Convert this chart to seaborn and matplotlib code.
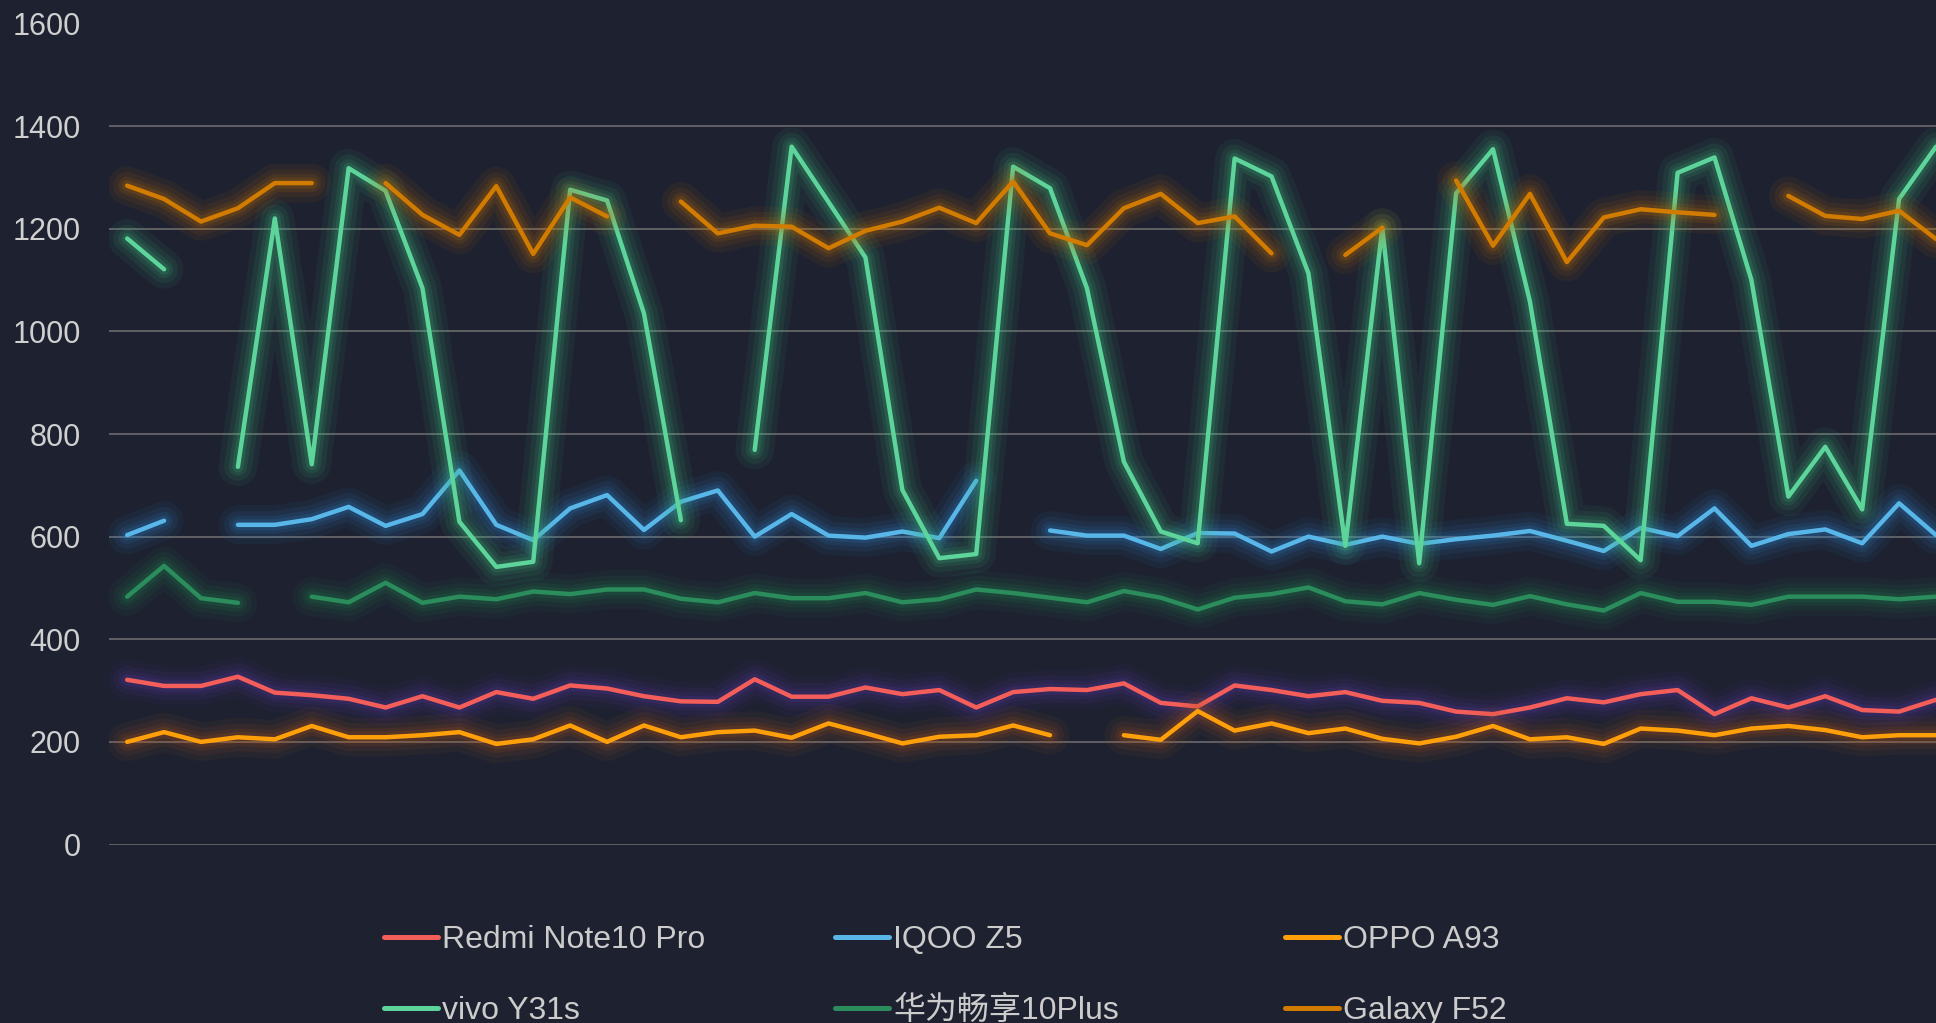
import numpy as np
import pandas as pd
import seaborn as sns
import matplotlib.pyplot as plt
import matplotlib.patheffects as pe
from matplotlib.lines import Line2D

nan = np.nan

# 50 sample points, no x labels shown on the chart
days = list(range(50))

names = ['Redmi Note10 Pro', 'IQOO Z5', 'OPPO A93', 'vivo Y31s', '华为畅享10Plus', 'Galaxy F52']

redmi = [321, 309, 309, 327, 296, 291, 284, 267, 289, 267, 297, 284, 310, 304, 289, 279,
         278, 322, 288, 288, 306, 293, 301, 267, 297, 303, 301, 314, 276, 269, 310, 301,
         289, 297, 280, 276, 259, 254, 267, 285, 277, 293, 301, 254, 285, 267, 289, 262,
         259, 282]
iqoo = [603, 631, nan, 623, 623, 634, 658, 621, 644, 729, 623, 593, 655, 681, 613, 668,
        690, 600, 644, 602, 598, 610, 597, 709, nan, 612, 602, 602, 576, 607, 606, 571,
        600, 584, 600, 586, 595, 602, 611, 592, 572, 617, 601, 655, 582, 605, 614, 587,
        665, 603]
oppo = [200, 219, 200, 209, 205, 231, 209, 209, 213, 219, 196, 205, 232, 200, 232, 209,
        219, 222, 208, 236, 217, 197, 210, 213, 232, 213, nan, 213, 204, 260, 222, 236,
        217, 226, 206, 197, 210, 231, 205, 209, 196, 226, 222, 213, 226, 231, 223, 209,
        213, 213]
vivo = [1181, 1121, nan, 736, 1220, 741, 1318, 1274, 1084, 629, 541, 551, 1276, 1255, 1035, 632,
        nan, 769, 1360, 1252, 1144, 691, 558, 566, 1321, 1279, 1084, 746, 610, 587, 1337, 1302,
        1113, 582, 1202, 548, 1269, 1355, 1058, 625, 621, 554, 1309, 1339, 1100, 678, 775, 653,
        1258, 1360]
huawei = [483, 543, 480, 471, nan, 483, 472, 510, 471, 483, 478, 493, 488, 497, 497, 479,
          472, 490, 480, 480, 490, 472, 478, 497, 490, 481, 472, 494, 481, 458, 481, 488,
          501, 474, 468, 490, 477, 467, 484, 468, 456, 490, 473, 473, 467, 483, 483, 483,
          478, 483]
galaxy = [1284, 1258, 1214, 1240, 1289, 1289, nan, 1289, 1227, 1188, 1283, 1151, 1261, 1224, nan, 1253,
          1191, 1206, 1204, 1162, 1196, 1214, 1241, 1211, 1292, 1191, 1168, 1240, 1268, 1211, 1224, 1152,
          nan, 1149, 1202, nan, 1294, 1167, 1268, 1135, 1222, 1238, 1232, 1227, nan, 1264, 1225, 1219,
          1235, 1180]

series = [redmi, iqoo, oppo, vivo, huawei, galaxy]
colors = ['#f45e5a', '#58b7e8', '#ff9f0a', '#5cd49a', '#2b8c5c', '#d17c00']
glows = ['#5e3ca8', '#2f8ad0', '#b85a1a', '#3fbf80', '#1f8a52', '#c86e00']

bg = '#1d2130'

sns.set_theme(style='dark')
plt.rcParams['font.family'] = ['Liberation Sans', 'Noto Sans CJK SC', 'DejaVu Sans']

fig = plt.figure(figsize=(19.36, 10.23), dpi=100, facecolor=bg)
ax = fig.add_axes([108.7 / 1936, 1 - 844.5 / 1023, 1 - 108.7 / 1936, (844.5 - 23.5) / 1023])
ax.set_facecolor(bg)

for name, vals, c, g in zip(names, series, colors, glows):
    s = pd.Series(vals, dtype=float)
    df = pd.DataFrame({'day': days, 'value': s, 'seg': s.isna().cumsum()}).dropna()
    sns.lineplot(data=df, x='day', y='value', units='seg', estimator=None, sort=False,
                 color=c, linewidth=3.2, legend=False, ax=ax,
                 path_effects=[pe.Stroke(linewidth=28, foreground=g, alpha=0.07),
                               pe.Stroke(linewidth=20, foreground=g, alpha=0.09),
                               pe.Stroke(linewidth=13, foreground=g, alpha=0.12),
                               pe.Stroke(linewidth=8, foreground=g, alpha=0.16),
                               pe.Normal()])

ax.set_xlim(-0.5, 49.0)
ax.set_ylim(0, 1600)
ax.set_yticks(range(0, 1601, 200))
ax.set_xticks([])
ax.set_xlabel('')
ax.set_ylabel('')
ax.tick_params(axis='y', length=0, pad=20, labelsize=22, labelcolor='#d0d0d0')
ax.grid(axis='y', color='#646468', linewidth=1.3)
ax.grid(axis='x', visible=False)
ax.set_axisbelow(True)
for sp in ax.spines.values():
    sp.set_visible(False)

# legend: 3 columns x 2 rows, fixed column starts
col_x = [384 / 1936, 835 / 1936, 1285 / 1936]
row_y = [1 - 940 / 1023, 1 - 1011 / 1023]
for i, (name, c) in enumerate(zip(names, colors)):
    h = Line2D([], [], color=c, linewidth=3.6, solid_capstyle='round')
    fig.legend(handles=[h], labels=[name], loc='center left',
               bbox_to_anchor=(col_x[i % 3], row_y[i // 3]),
               frameon=False, borderpad=0, borderaxespad=0,
               handlelength=1.7, handletextpad=0.12, fontsize=23, labelcolor='#cccccc')

fig.savefig('out.png', dpi=100, facecolor=bg)
